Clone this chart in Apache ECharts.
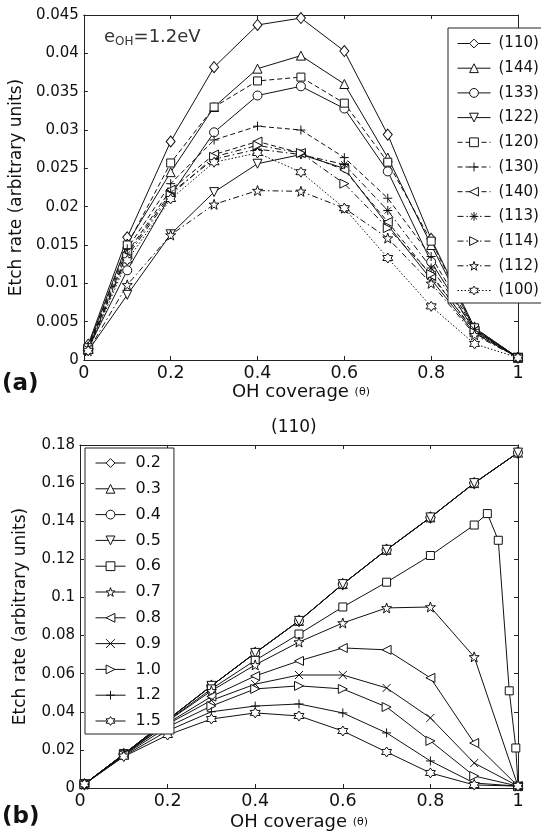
<!DOCTYPE html>
<html>
<head>
<meta charset="utf-8">
<script src="https://cdn.jsdelivr.net/npm/echarts@6.0.0/dist/echarts.min.js"></script>
<style>
html,body{margin:0;padding:0;background:#fff;}
#c{width:541px;height:834px;}
</style>
</head>
<body>
<div id="c"></div>
<script>
// ---------- DATA ----------
// Panel (a): eOH = 1.2 eV, etch rate vs OH coverage for several surfaces
const xA = [0.01, 0.1, 0.2, 0.3, 0.4, 0.5, 0.6, 0.7, 0.8, 0.9, 1.0];
const namesA = ['(110)', '(144)', '(133)', '(122)', '(120)', '(130)', '(140)', '(113)', '(114)', '(112)', '(100)'];
const a110 = [0.0020, 0.0160, 0.0285, 0.0382, 0.0437, 0.0446, 0.0403, 0.0294, 0.0158, 0.0042, 0.0003];
const a144 = [0.0018, 0.0152, 0.0245, 0.0330, 0.0380, 0.0397, 0.0360, 0.0264, 0.0150, 0.0040, 0.0003];
const a133 = [0.0015, 0.0117, 0.0215, 0.0297, 0.0345, 0.0357, 0.0328, 0.0246, 0.0128, 0.0038, 0.0003];
const a122 = [0.0012, 0.0085, 0.0164, 0.0219, 0.0256, 0.0268, 0.0250, 0.0176, 0.0105, 0.0035, 0.0003];
const a120 = [0.0016, 0.0150, 0.0257, 0.0330, 0.0364, 0.0369, 0.0335, 0.0258, 0.0155, 0.0042, 0.0003];
const a130 = [0.0015, 0.0145, 0.0230, 0.0287, 0.0305, 0.0300, 0.0264, 0.0211, 0.0135, 0.0040, 0.0003];
const a140 = [0.0014, 0.0140, 0.0222, 0.0268, 0.0285, 0.0270, 0.0248, 0.0180, 0.0110, 0.0038, 0.0003];
const a113 = [0.0014, 0.0138, 0.0218, 0.0262, 0.0275, 0.0268, 0.0255, 0.0195, 0.0120, 0.0040, 0.0003];
const a114 = [0.0013, 0.0135, 0.0215, 0.0265, 0.0280, 0.0270, 0.0230, 0.0172, 0.0112, 0.0036, 0.0003];
const a112 = [0.0012, 0.0098, 0.0163, 0.0203, 0.0221, 0.0220, 0.0198, 0.0159, 0.0100, 0.0033, 0.0003];
const a100 = [0.0012, 0.0130, 0.0210, 0.0258, 0.0270, 0.0245, 0.0198, 0.0133, 0.0070, 0.0021, 0.0003];
const valuesA = [a110, a144, a133, a122, a120, a130, a140, a113, a114, a112, a100];

// Panel (b): (110) surface, etch rate vs OH coverage for several eOH
const xB = [0.01, 0.1, 0.2, 0.3, 0.4, 0.5, 0.6, 0.7, 0.8, 0.9, 1.0];
const xB06 = [0.01, 0.1, 0.2, 0.3, 0.4, 0.5, 0.6, 0.7, 0.8, 0.9, 0.93, 0.955, 0.98, 0.995, 1.0];
const namesB = ['0.2', '0.3', '0.4', '0.5', '0.6', '0.7', '0.8', '0.9', '1.0', '1.2', '1.5'];
const b02 = [0.002, 0.0178, 0.0357, 0.0536, 0.0709, 0.0877, 0.107, 0.125, 0.142, 0.160, 0.176];
const b03 = [0.002, 0.0178, 0.0357, 0.0536, 0.0709, 0.0877, 0.107, 0.125, 0.142, 0.160, 0.176];
const b04 = [0.002, 0.0178, 0.0357, 0.0536, 0.0709, 0.0877, 0.107, 0.125, 0.142, 0.160, 0.176];
const b05 = [0.002, 0.0178, 0.0357, 0.0536, 0.0709, 0.0877, 0.107, 0.125, 0.142, 0.160, 0.176];
const b06 = [0.002, 0.0177, 0.0352, 0.052, 0.067, 0.0808, 0.095, 0.108, 0.122, 0.138, 0.144, 0.130, 0.051, 0.021, 0.001];
const b07 = [0.002, 0.0176, 0.035, 0.051, 0.0646, 0.0766, 0.0866, 0.0945, 0.095, 0.0688, 0.001];
const b08 = [0.002, 0.0175, 0.034, 0.048, 0.0588, 0.0667, 0.0735, 0.0725, 0.0578, 0.0236, 0.001];
const b09 = [0.002, 0.0175, 0.0335, 0.046, 0.0545, 0.0593, 0.0593, 0.0525, 0.0368, 0.0131, 0.001];
const b10 = [0.002, 0.0172, 0.032, 0.043, 0.052, 0.0536, 0.052, 0.0425, 0.0247, 0.0063, 0.001];
const b12 = [0.002, 0.0168, 0.030, 0.040, 0.043, 0.0441, 0.0394, 0.0289, 0.0142, 0.0026, 0.001];
const b15 = [0.002, 0.0165, 0.0278, 0.0362, 0.0394, 0.0378, 0.0299, 0.0189, 0.0079, 0.0016, 0.001];
const valuesB = [b02, b03, b04, b05, b06, b07, b08, b09, b10, b12, b15];
const xsB = [xB, xB, xB, xB, xB06, xB, xB, xB, xB, xB, xB];

const yTicksA = [0, 0.005, 0.01, 0.015, 0.02, 0.025, 0.03, 0.035, 0.04, 0.045];
const yTicksB = [0, 0.02, 0.04, 0.06, 0.08, 0.1, 0.12, 0.14, 0.16, 0.18];
const xTicks = [0, 0.2, 0.4, 0.6, 0.8, 1];

// ---------- STYLE ----------
const FONT = 'DejaVu Sans';
function starPath(n, ro, ri) {
  let d = '';
  for (let i = 0; i < 2 * n; i++) {
    const r = i % 2 === 0 ? ro : ri;
    const ang = -Math.PI / 2 + i * Math.PI / n;
    const px = (10 + r * Math.cos(ang)).toFixed(2), py = (10 + r * Math.sin(ang)).toFixed(2);
    d += (i === 0 ? 'M' : 'L') + px + ',' + py + ' ';
  }
  return 'path://' + d + 'Z';
}
const SYM = {
  diamond: 'diamond',
  tri: 'triangle',
  circle: 'circle',
  dtri: 'path://M0,0 L10,0 L5,9 Z',
  square: 'rect',
  plus: 'path://M5,0 L5,10 M0,5 L10,5',
  ltri: 'path://M0,5 L9,0 L9,10 Z',
  rtri: 'path://M0,0 L9,5 L0,10 Z',
  aster: 'path://M5,0 L5,10 M0,5 L10,5 M1.5,1.5 L8.5,8.5 M8.5,1.5 L1.5,8.5',
  cross: 'path://M0,0 L10,10 M10,0 L0,10',
  penta: starPath(5, 10, 4),
  hexa: starPath(6, 10, 5.8)
};
const symA = ['diamond', 'tri', 'circle', 'dtri', 'square', 'plus', 'ltri', 'aster', 'rtri', 'penta', 'hexa'];
const dashA = ['solid', 'solid', 'solid', 'solid', [5, 3], [5, 3], [5, 3], [6, 3, 1.5, 3], [6, 3, 1.5, 3], [6, 3, 1.5, 3], [1.5, 2]];
const symB = ['diamond', 'tri', 'circle', 'dtri', 'square', 'penta', 'ltri', 'cross', 'rtri', 'plus', 'hexa'];
const symSize = {diamond: [9, 11], tri: 9, circle: 9, dtri: 9, square: 8, plus: 9, ltri: 9, rtri: 9, aster: 9, cross: 8, penta: 10, hexa: 10};

function fmt(v) { return String(parseFloat(v.toFixed(4))); }

const series = [];
namesA.forEach((n, i) => {
  series.push({
    name: n, type: 'line', xAxisIndex: 0, yAxisIndex: 0,
    data: xA.map((x, j) => [x, valuesA[i][j]]),
    symbol: SYM[symA[i]], symbolSize: symSize[symA[i]],
    showAllSymbol: true,
    lineStyle: {color: '#111', width: 1, type: dashA[i]},
    itemStyle: {color: '#fff', borderColor: '#111', borderWidth: 1},
    emphasis: {disabled: true}, z: 2
  });
});
namesB.forEach((n, i) => {
  series.push({
    name: n, type: 'line', xAxisIndex: 2, yAxisIndex: 2,
    data: xsB[i].map((x, j) => [x, valuesB[i][j]]),
    symbol: SYM[symB[i]], symbolSize: symSize[symB[i]],
    showAllSymbol: true,
    lineStyle: {color: '#111', width: 1, type: 'solid'},
    itemStyle: {color: '#fff', borderColor: '#111', borderWidth: 1},
    emphasis: {disabled: true}, z: 2
  });
});

const axisLineS = {show: true, onZero: false, lineStyle: {color: '#222', width: 1}};
function xMain(grid, gap) {
  return {
    type: 'value', gridIndex: grid, position: 'bottom', min: 0, max: 1, interval: 0.2,
    axisLine: axisLineS, axisTick: {show: true, inside: true, length: 4, lineStyle: {color: '#222'}},
    splitLine: {show: false},
    axisLabel: {color: '#111', fontFamily: FONT, fontSize: 17.5, margin: 4, formatter: fmt},
    name: 'OH coverage {t|(θ)}', nameLocation: 'middle', nameGap: gap,
    nameTextStyle: {color: '#111', fontFamily: FONT, fontSize: 18, rich: {t: {fontFamily: FONT, fontSize: 11, color: '#111'}}}
  };
}
function xTop(grid) {
  return {
    type: 'value', gridIndex: grid, position: 'top', min: 0, max: 1, interval: 0.2,
    axisLine: axisLineS, axisTick: {show: true, inside: true, length: 4, lineStyle: {color: '#222'}},
    splitLine: {show: false}, axisLabel: {show: false}
  };
}
function yMain(grid, max, interval) {
  return {
    type: 'value', gridIndex: grid, position: 'left', min: 0, max: max, interval: interval,
    axisLine: axisLineS, axisTick: {show: true, inside: true, length: 4, lineStyle: {color: '#222'}},
    splitLine: {show: false},
    axisLabel: {color: '#111', fontFamily: FONT, fontSize: 15, margin: 5, formatter: fmt},
    name: 'Etch rate (arbitrary units)', nameLocation: 'middle', nameGap: 51,
    nameTextStyle: {color: '#111', fontFamily: FONT, fontSize: 17}
  };
}
function yRight(grid, max, interval) {
  return {
    type: 'value', gridIndex: grid, position: 'right', min: 0, max: max, interval: interval,
    axisLine: axisLineS, axisTick: {show: true, inside: true, length: 4, lineStyle: {color: '#222'}},
    splitLine: {show: false}, axisLabel: {show: false}
  };
}

const legendLine = {width: 1};
const legendItem = {borderWidth: 1, borderColor: '#111', color: '#fff'};

const option = {
  animation: false,
  backgroundColor: '#fff',
  grid: [
    {left: 80, right: 23, top: 15, bottom: 474, containLabel: false},
    {left: 80, right: 23, top: 445, bottom: 46, containLabel: false}
  ],
  xAxis: [xMain(0, 19), xTop(0), xMain(1, 25), xTop(1)],
  yAxis: [yMain(0, 0.045, 0.005), yRight(0, 0.045, 0.005), yMain(1, 0.18, 0.02), yRight(1, 0.18, 0.02)],
  legend: [
    {
      data: namesA, orient: 'vertical', left: 448, top: 28,
      padding: [8, 20, 5, 9], itemWidth: 33, itemHeight: 11, itemGap: 9.7,
      backgroundColor: '#fff', borderColor: '#222', borderWidth: 1, borderRadius: 0,
      lineStyle: legendLine, itemStyle: legendItem,
      textStyle: {color: '#111', fontFamily: FONT, fontSize: 15, padding: [0, 0, 0, 3]},
      selectedMode: false
    },
    {
      data: namesB, orient: 'vertical', left: 85, top: 448,
      padding: [7, 13, 5, 10], itemWidth: 30, itemHeight: 11, itemGap: 9.8,
      backgroundColor: '#fff', borderColor: '#222', borderWidth: 1, borderRadius: 0,
      lineStyle: legendLine, itemStyle: legendItem,
      textStyle: {color: '#111', fontFamily: FONT, fontSize: 16, padding: [0, 0, 0, 5]},
      selectedMode: false
    }
  ],
  title: [
    {text: '(a)', left: 2, top: 373, padding: 0, textStyle: {fontFamily: FONT, fontWeight: 'bold', fontSize: 23, color: '#111'}},
    {text: '(b)', left: 2, top: 806, padding: 0, textStyle: {fontFamily: FONT, fontWeight: 'bold', fontSize: 23, color: '#111'}},
    {text: '(110)', left: 271, top: 419, padding: 0, textStyle: {fontFamily: FONT, fontWeight: 'normal', fontSize: 17, color: '#111'}},
    {text: '{e|e}{s|OH}{e|=1.2eV}', left: 104, top: 27, padding: 0,
     textStyle: {fontWeight: 'normal', rich: {
       e: {fontFamily: FONT, fontSize: 18, fontWeight: 'normal', color: '#333'},
       s: {fontFamily: FONT, fontSize: 12, fontWeight: 'normal', color: '#333', padding: [9, 0, 0, 0]}
     }}}
  ],
  series: series
};

const chart = echarts.init(document.getElementById('c'), null, {renderer: 'canvas'});
chart.setOption(option);
</script>
</body>
</html>
